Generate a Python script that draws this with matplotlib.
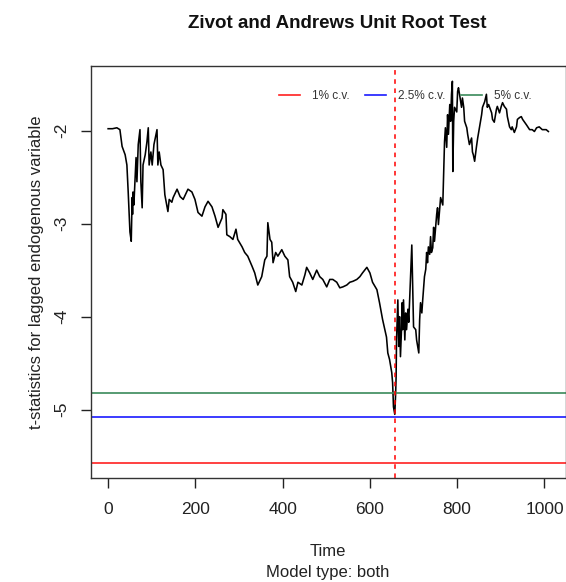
import matplotlib
matplotlib.use("Agg")
import matplotlib.pyplot as plt

plt.rcParams['font.family'] = ['Liberation Sans', 'DejaVu Sans']

# t-statistics (time, value)
t_time = [0, 10, 20, 27, 32, 39, 43, 46, 50, 53, 55, 56, 57, 59, 64, 66, 69, 73, 75, 78,
          80, 85, 89, 92, 94, 98, 101, 105, 112, 114, 117, 121, 126, 130, 137, 140, 146,
          149, 158, 165, 172, 183, 192, 199, 206,
          215, 222, 229, 238, 245, 252, 261, 263, 270, 272, 279, 286, 293, 297, 307, 313,
          320, 330, 336, 343, 352, 359, 364, 366, 371, 375, 378, 384, 389, 398, 405, 412,
          416, 423, 430, 435, 444, 451, 455, 462, 469, 478, 485, 492, 501, 508, 515, 524,
          531, 538, 547, 554, 561, 570, 577, 583, 593, 600, 606,
          616, 622, 629, 638, 641, 645, 650, 652, 654, 657, 659, 660, 661, 664, 666, 668,
          670, 673, 674, 675, 677, 680, 682, 684, 687, 689, 693, 696, 698, 699, 700, 705,
          707, 712, 714, 716, 719, 721, 725, 728, 730, 732, 734, 737, 739, 741, 744,
          746, 748, 753, 755, 757, 762, 767, 769, 771, 773, 776, 778, 780, 783, 785, 787,
          789, 790, 792, 794, 799, 801, 803, 808, 810, 812, 815, 817, 822, 824, 828, 833,
          835, 837, 840, 844, 847, 851, 856, 858, 863, 867, 869, 872,
          879, 881, 885, 890, 892, 897, 901, 904, 908, 913, 915, 920, 924, 926, 931, 936,
          938, 943, 947, 950, 959, 966, 972, 977, 982, 988, 995, 1004, 1009]
t_stat = [-1.98, -1.98, -1.97, -1.99, -2.17, -2.26, -2.37, -2.66, -3.09, -3.19, -2.72,
          -2.90, -2.66, -2.80, -2.29, -2.55, -2.15, -1.99, -2.55, -2.83,
          -2.37, -2.26, -2.12, -1.97, -2.37, -2.23, -2.37, -2.15, -1.99, -2.37, -2.23,
          -2.37, -2.42, -2.69, -2.87, -2.74, -2.77,
          -2.72, -2.63, -2.71, -2.74, -2.63, -2.66, -2.74, -2.88,
          -2.92, -2.82, -2.76, -2.82, -2.92, -3.04, -2.94, -2.85, -2.90, -3.12, -3.14,
          -3.17, -3.06, -3.17, -3.25, -3.31, -3.35, -3.46, -3.53, -3.66, -3.57, -3.39,
          -3.35, -2.99, -3.17, -3.20, -3.42, -3.31, -3.35, -3.28, -3.35, -3.39, -3.57,
          -3.63, -3.73, -3.63, -3.66, -3.55, -3.47, -3.53, -3.60, -3.50, -3.57, -3.60,
          -3.68, -3.60, -3.60, -3.63, -3.69, -3.68, -3.66, -3.63, -3.62, -3.60, -3.57,
          -3.53, -3.47, -3.53, -3.63,
          -3.71, -3.85, -4.03, -4.22, -4.39, -4.46, -4.60, -4.71, -4.97, -5.05, -4.82,
          -4.65, -4.25, -3.82, -4.32, -4.00,
          -4.43, -4.06, -3.85, -4.14, -3.82, -4.25, -3.96, -4.14, -3.92, -4.06, -3.57,
          -3.23, -3.68, -3.96, -4.11, -4.14,
          -4.25, -4.39, -4.03, -3.85, -3.96, -3.82, -3.57, -3.49, -3.31, -3.42, -3.25,
          -3.33, -3.14, -3.31, -3.26,
          -3.04, -3.19, -2.90, -2.83, -3.01, -2.72, -2.80, -2.44, -2.12, -1.97, -2.18,
          -1.83, -2.04, -1.72, -1.90, -1.61,
          -1.47, -2.44, -1.90, -1.75, -1.80, -1.58, -1.54, -1.69, -1.75, -1.65, -1.75,
          -1.90, -1.97, -2.04, -2.15, -2.08,
          -2.23, -2.26, -2.33, -2.18, -2.08, -1.97, -1.83, -1.75, -1.69, -1.61, -1.75,
          -1.72,
          -1.81, -1.88, -1.91, -1.77, -1.74, -1.81, -1.74, -1.70, -1.74, -1.77, -1.85,
          -1.96, -1.99, -1.96, -2.02, -1.96,
          -1.88, -1.86, -1.85, -1.88, -1.94, -1.99, -1.99, -2.01, -1.97, -1.96, -1.99,
          -1.99, -2.01]

cv_values = [-5.57, -5.08, -4.82]
cv_labels = ['1% c.v.', '2.5% c.v.', '5% c.v.']
cv_colors = ['#ff2020', '#1a1aff', '#3a8a5a']
break_point = 657

fig = plt.figure(figsize=(5.66, 5.82), dpi=100)
ax = fig.add_axes([90.5 / 566, 1 - 478 / 582, 1 - 90.5 / 566, (478 - 66) / 582])

ax.plot(t_time, t_stat, color='black', lw=1.15)
handles = []
for v, c, lab in zip(cv_values, cv_colors, cv_labels):
    h, = ax.plot([-100, 1200], [v, v], color=c, lw=1.2, label=lab)
    handles.append(h)
ax.axvline(break_point, color='#ff0000', lw=1.1, ls=(0, (3, 3)))

ax.set_xlim(-40.4, 1049.4)
ax.set_ylim(-5.734, -1.306)
ax.set_xticks([0, 200, 400, 600, 800, 1000])
ax.set_yticks([-2, -3, -4, -5])
ax.set_yticklabels(['-2', '-3', '-4', '-5'], rotation=90, va='center')
ax.tick_params(direction='out', length=7, width=1, colors='#222222', labelsize=12.5, pad=10)
ax.tick_params(axis='y', pad=8)
for s in ax.spines.values():
    s.set_color('#333333')
    s.set_linewidth(1.0)

ax.set_ylabel('t-statistics for lagged endogenous variable', fontsize=12, color='#222222', labelpad=8)
fig.text(328 / 566, 1 - 551 / 582, 'Time', ha='center', va='center', fontsize=12, color='#222222')
fig.text(328 / 566, 1 - 572 / 582, 'Model type: both', ha='center', va='center', fontsize=12, color='#222222')
fig.text(337 / 566, 1 - 23 / 582, 'Zivot and Andrews Unit Root Test', ha='center', va='center',
         fontsize=13.5, fontweight='bold', color='#111111')

leg = ax.legend(handles=handles, ncol=3, frameon=False, fontsize=8.5,
                loc='center left', bbox_to_anchor=(279 / 566, 1 - 96 / 582),
                bbox_transform=fig.transFigure, borderaxespad=0, borderpad=0,
                handlelength=1.8, handletextpad=1.0, columnspacing=1.3)
for txt in leg.get_texts():
    txt.set_color('#333333')

fig.savefig('out.png', dpi=100)
